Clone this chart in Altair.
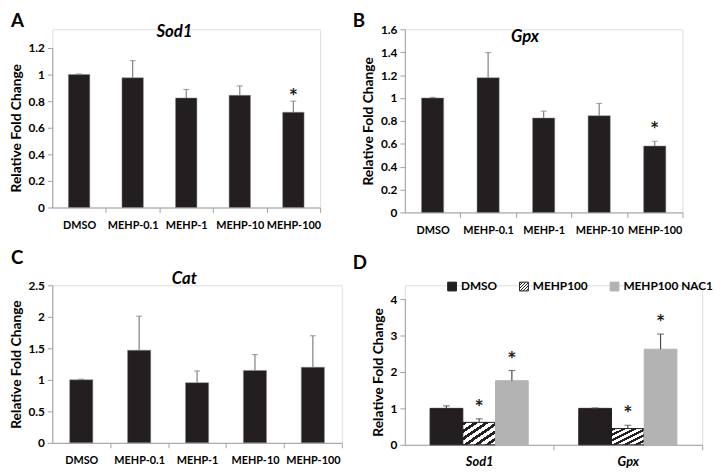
import altair as alt
import pandas as pd

# ---------------- data ----------------
categories = ["DMSO", "MEHP-0.1", "MEHP-1", "MEHP-10", "MEHP-100"]

sod1_mean = [1.0, 0.976, 0.824, 0.844, 0.717]
sod1_upper = [1.005, 1.105, 0.888, 0.915, 0.80]
sod1_sig = ["", "", "", "", "*"]

gpx_mean = [1.0, 1.177, 0.825, 0.845, 0.58]
gpx_upper = [1.005, 1.397, 0.885, 0.952, 0.622]
gpx_sig = ["", "", "", "", "*"]

cat_mean = [1.0, 1.47, 0.955, 1.15, 1.20]
cat_upper = [1.01, 2.01, 1.14, 1.40, 1.70]
cat_sig = ["", "", "", "", ""]

a_ticks = [0, 0.2, 0.4, 0.6, 0.8, 1.0, 1.2]
b_ticks = [0, 0.2, 0.4, 0.6, 0.8, 1.0, 1.2, 1.4, 1.6]
c_ticks = [0, 0.5, 1.0, 1.5, 2.0, 2.5]
d_ticks = [0, 1, 2, 3, 4]

d_gene_order = ["Sod1", "Gpx"]
d_treatments = ["DMSO", "MEHP100", "MEHP100 NAC1"]
d_genes = ["Sod1", "Sod1", "Sod1", "Gpx", "Gpx", "Gpx"]
d_treat = ["DMSO", "MEHP100", "MEHP100 NAC1", "DMSO", "MEHP100", "MEHP100 NAC1"]
d_mean = [1.0, 0.616, 1.76, 1.0, 0.446, 2.625]
d_upper = [1.07, 0.714, 2.04, 1.01, 0.536, 3.04]
d_sig = ["", "*", "*", "", "*", "*"]

# ---------------- style ----------------
FONT = "Lato"
BAR = "#231f20"
GREY_BAR = "#b3b3b3"
AXIS_GREY = "#9f9f9f"
ERR_GREY = "#808080"
YTITLE = "Relative Fold Change"


def hatch_expr(n=6, frac=0.45, dark=BAR, light="#ffffff"):
    stops = []
    for i in range(n):
        a, b, c = i / n, (i + frac) / n, (i + 1) / n
        stops += [(a, dark), (b, dark), (b, light), (c, light)]
    s = ",".join("{offset:%.4f,color:'%s'}" % (o, col) for o, col in stops)
    return "{gradient:'linear',x1:0,y1:0,x2:1,y2:1,stops:[" + s + "]}"


def y_axis(ticks):
    return alt.Axis(
        values=ticks, format="~g", grid=False, labelOverlap=False,
        domainColor=AXIS_GREY, tickColor=AXIS_GREY, tickSize=5,
        labelFont=FONT, labelFontSize=12, labelFontWeight="bold", labelColor="black",
        labelPadding=3,
        titleFont=FONT, titleFontSize=14, titleFontWeight="bold", titleColor="black",
        titlePadding=5,
    )


def y_enc(field, ymax, ticks, h, top):
    return alt.Y(field, title=YTITLE,
                 scale=alt.Scale(domain=[0, ymax], nice=False, zero=True, range=[h, top]),
                 axis=y_axis(ticks))


def letter_mark(letter, lx, ly):
    return alt.Chart(pd.DataFrame({"t": [letter]})).mark_text(
        font=FONT, fontSize=19, fontWeight="bold", color="black",
        baseline="top", align="left",
    ).encode(text="t:N", x=alt.value(lx), y=alt.value(ly))


def gene_mark(gene, gx, gy):
    return alt.Chart(pd.DataFrame({"g": [gene]})).mark_text(
        font=FONT, fontSize=17, fontWeight="bold", fontStyle="italic", color="black",
        baseline="middle", align="center",
    ).encode(text="g:N", x=alt.value(gx), y=alt.value(gy))


def panel(letter, gene, mean, upper, sig, ymax, ticks, w, h, top, gene_x, gene_y,
          star_dy, lx, ly):
    df = pd.DataFrame({"cat": categories, "mean": mean, "upper": upper, "sig": sig})
    step = w / len(categories)
    x = alt.X(
        "cat:N", sort=categories, title=None,
        scale=alt.Scale(paddingInner=0.6, paddingOuter=0.3),
        axis=alt.Axis(
            labelAngle=0, labelFont=FONT, labelFontSize=11, labelFontWeight="bold",
            labelColor="black", domainColor=AXIS_GREY, tickColor=AXIS_GREY, tickSize=5,
            tickOffset=step / 2, labelOffset=-step / 2, labelPadding=7,
            labelOverlap=False,
        ),
    )
    base = alt.Chart(df)
    bars = base.mark_bar(color=BAR, stroke="#8a8a8a", strokeWidth=0.5).encode(
        x=x, y=y_enc("mean:Q", ymax, ticks, h, top))
    err = base.mark_rule(color=ERR_GREY, strokeWidth=1.2).encode(
        x=x, y=y_enc("mean:Q", ymax, ticks, h, top), y2="upper:Q")
    cap = base.mark_tick(color=ERR_GREY, thickness=1.2, size=6).encode(
        x=x, y=y_enc("upper:Q", ymax, ticks, h, top))
    star = base.mark_text(font=FONT, fontSize=22, fontWeight="bold", color=BAR,
                          baseline="alphabetic", dy=star_dy).encode(
        x=x, y=y_enc("upper:Q", ymax, ticks, h, top), text="sig:N")
    return alt.layer(bars, err, cap, star, gene_mark(gene, gene_x, gene_y),
                     letter_mark(letter, lx, ly)).properties(width=w, height=h)


# A: plot top sits 19 px below the row origin (B's top)
A = panel("A", "Sod1", sod1_mean, sod1_upper, sod1_sig, 1.2, a_ticks,
          272, 181, 19, 124, 3, 3, -42, -17)
B = panel("B", "Gpx", gpx_mean, gpx_upper, gpx_sig, 1.6, b_ticks,
          282, 186, 0, 122, 8, -4, -53, -17)
C = panel("C", "Cat", cat_mean, cat_upper, cat_sig, 2.5, c_ticks,
          294, 160, 0, 134, -6, -4, -42, -37)

# ---------------- panel D ----------------
ddf = pd.DataFrame({"gene": d_genes, "treat": d_treat, "mean": d_mean,
                    "upper": d_upper, "sig": d_sig})
DW, DH, DTOP = 302, 162, 14
dstep = DW / len(d_gene_order)
dx = alt.X(
    "gene:N", sort=d_gene_order, title=None,
    scale=alt.Scale(paddingInner=0.34, paddingOuter=0.17),
    axis=alt.Axis(
        labelAngle=0, labelFont=FONT, labelFontSize=13, labelFontWeight="bold",
        labelFontStyle="italic", labelColor="black", domainColor=AXIS_GREY,
        tickColor=AXIS_GREY, tickSize=5, tickOffset=dstep / 2, labelOffset=-dstep / 2,
        labelPadding=6,
    ),
)
dxo = alt.XOffset("treat:N", sort=d_treatments,
                  scale=alt.Scale(paddingInner=0, paddingOuter=0))
leg = alt.Legend(
    title=None, orient="none", legendX=42, legendY=-5, direction="horizontal",
    symbolType="square", symbolSize=80, symbolStrokeWidth=1,
    labelFont=FONT, labelFontSize=12, labelFontWeight="bold", labelColor="black",
    columnPadding=20, labelOffset=3,
)
dfill = alt.Fill("treat:N", sort=d_treatments, legend=leg,
                 scale=alt.Scale(domain=d_treatments,
                                 range=[BAR, alt.ExprRef(hatch_expr()), GREY_BAR]))
dstroke = alt.Stroke("treat:N", sort=d_treatments, legend=leg,
                     scale=alt.Scale(domain=d_treatments, range=[BAR, BAR, GREY_BAR]))
dbase = alt.Chart(ddf)
dbars = dbase.mark_bar(strokeWidth=1, fillOpacity=1).encode(
    x=dx, xOffset=dxo, y=y_enc("mean:Q", 4, d_ticks, DH, DTOP), fill=dfill, stroke=dstroke)
derr = dbase.mark_rule(color="#4a4a4a", strokeWidth=1.2).encode(
    x=dx, xOffset=dxo, y=y_enc("mean:Q", 4, d_ticks, DH, DTOP), y2="upper:Q")
dcap = dbase.mark_tick(color="#4a4a4a", thickness=1.2, size=7).encode(
    x=dx, xOffset=dxo, y=y_enc("upper:Q", 4, d_ticks, DH, DTOP))
dstar = dbase.mark_text(font=FONT, fontSize=22, fontWeight="bold", color=BAR,
                        baseline="alphabetic", dy=-4).encode(
    x=dx, xOffset=dxo, y=y_enc("upper:Q", 4, d_ticks, DH, DTOP), text="sig:N")
D = alt.layer(dbars, derr, dcap, dstar, letter_mark("D", -53, -32)).properties(
    width=DW, height=DH)

chart = alt.concat(
    A, B, C, D, columns=2, spacing={"row": 12, "column": 9}, align="each"
).resolve_scale(fill="independent", stroke="independent").properties(
    padding={"left": 0, "top": 0, "right": 0, "bottom": 0}
).configure_view(stroke=None).configure(background="white")

chart.save("out.html", embed_options={"renderer": "svg", "actions": False})
